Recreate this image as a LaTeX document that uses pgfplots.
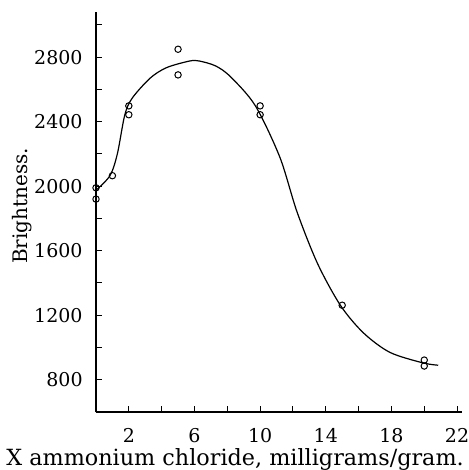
\documentclass[border=0pt]{standalone}
\usepackage{fontspec}
\setmainfont{DejaVu Serif}
\usepackage{pgfplots}
\pgfplotsset{compat=1.18}
\begin{document}
\begin{tikzpicture}
\begin{axis}[
  name=ax,
  scale only axis,
  width=183pt, height=200pt,
  xmin=0, xmax=22.3, ymin=600, ymax=3080,
  axis x line=bottom, axis y line=left,
  axis line style={-, line width=0.8pt},
  xtick={2,6,10,14,18,22},
  minor xtick={0,4,8,12,16,20},
  ytick={800,1200,1600,2000,2400,2800},
  minor ytick={600,1000,1400,1800,2200,2600,3000},
  tick align=inside,
  major tick length=3pt, minor tick length=3pt,
  tick style={black, line width=0.5pt},
  /pgf/number format/assume math mode=true,
  /pgf/number format/1000 sep={},
  ticklabel style={font=\fontsize{9.5}{11}\selectfont},
  xticklabel style={anchor=base, yshift=-15pt},
  yticklabel style={anchor=east, inner sep=0pt, xshift=-6.5pt},
  xlabel={X ammonium chloride, milligrams/gram.},
  ylabel={Brightness.},
  xlabel style={font=\fontsize{11.15}{13}\selectfont, inner sep=0pt, at={(axis description cs:0,0)}, anchor=base west, yshift=-26.5pt, xshift=-45pt},
  ylabel style={font=\fontsize{10}{12}\selectfont, inner sep=0pt, at={(axis description cs:-0.188,0.515)}, anchor=base},
]
\addplot[black, line width=0.6pt, smooth, tension=0.5] coordinates {
 (0,1975) (0.85,2065) (1.3,2200) (1.75,2440) (2.2,2545) (3.3,2670) (4.3,2735)
 (5.7,2776) (6.3,2776) (7.3,2745) (8.2,2678) (9.7,2500) (11.2,2180)
 (12.25,1840) (13.5,1520) (14.9,1260) (16.3,1090) (17.9,970) (19.9,905) (20.85,890)
};
\addplot[only marks, mark=o, mark size=1.6pt, mark options={black, line width=0.5pt, fill=white}] coordinates {
 (0,1990) (0,1920) (1,2065) (2,2498) (2,2443) (5,2849) (5,2690)
 (10,2498) (10,2443) (15,1262) (20,922) (20,885)
};
\end{axis}
\pgfresetboundingbox
\path ([xshift=-48pt,yshift=6pt]ax.north west) rectangle ([xshift=3pt,yshift=-29pt]ax.south east);
\end{tikzpicture}
\end{document}
